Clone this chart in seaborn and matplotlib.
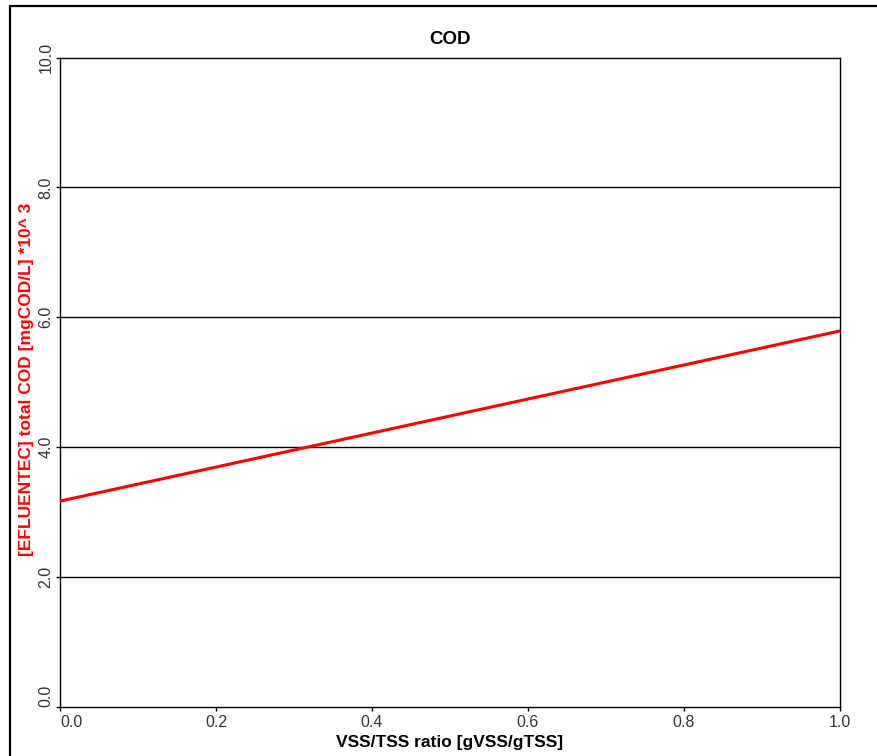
import numpy as np
import pandas as pd
import seaborn as sns
import matplotlib.pyplot as plt
from matplotlib.patches import Rectangle

vss_ratio = [0.0, 1.0]
total_cod = [3.17, 5.79]
x_ticks = [0.0, 0.2, 0.4, 0.6, 0.8, 1.0]
y_ticks = [0.0, 2.0, 4.0, 6.0, 8.0, 10.0]

df = pd.DataFrame({'ratio': vss_ratio, 'cod': total_cod})

sns.set_style('white')
plt.rcParams['font.family'] = ['Liberation Sans', 'DejaVu Sans']

fig = plt.figure(figsize=(8.78, 7.56), dpi=100)
W, H = 878, 756
ax = fig.add_axes([60 / W, 1 - 707 / H, 780 / W, 649.5 / H])

# outer frame (goes off the right and bottom edge)
fig.patches.append(Rectangle((10 / W, -0.1), 1.2, 1 - 6 / H + 0.1, transform=fig.transFigure,
                             fill=False, edgecolor='black', linewidth=1.6))

for yv in [2.0, 4.0, 6.0, 8.0]:
    ax.axhline(yv, color='black', linewidth=1.0, zorder=1)

sns.lineplot(data=df, x='ratio', y='cod', color='#ff0000', linewidth=2.2, ax=ax, zorder=3)

ax.set_xlim(0, 1)
ax.set_ylim(0, 10)
ax.set_xticks(x_ticks)
ax.set_xticklabels([f'{v:.1f}' for v in x_ticks])
ax.set_yticks(y_ticks)
ax.set_yticklabels([f'{v:.1f}' for v in y_ticks], rotation=90, va='center')
ax.tick_params(axis='both', direction='out', length=3, width=1, labelsize=11.5,
               colors='black', labelcolor='#333333', left=True, bottom=True, pad=3)
ax.tick_params(axis='y', pad=1.5)
ax.get_xticklabels()[0].set_ha('left')
ax.get_yticklabels()[0].set_va('bottom')

for s in ax.spines.values():
    s.set_color('black')
    s.set_linewidth(1.0)

ax.set_title('COD', fontsize=13.5, fontweight='bold', color='black', pad=10)
ax.set_xlabel('VSS/TSS ratio [gVSS/gTSS]', fontsize=12.5, fontweight='bold',
              color='black', labelpad=3)
ax.set_ylabel('[EFLUENTEC] total COD [mgCOD/L] *10^ 3', fontsize=12.5, fontweight='bold',
              color='#ff0000')
ax.yaxis.set_label_coords(-0.033, 0.505)

fig.savefig('out.png', dpi=100)
